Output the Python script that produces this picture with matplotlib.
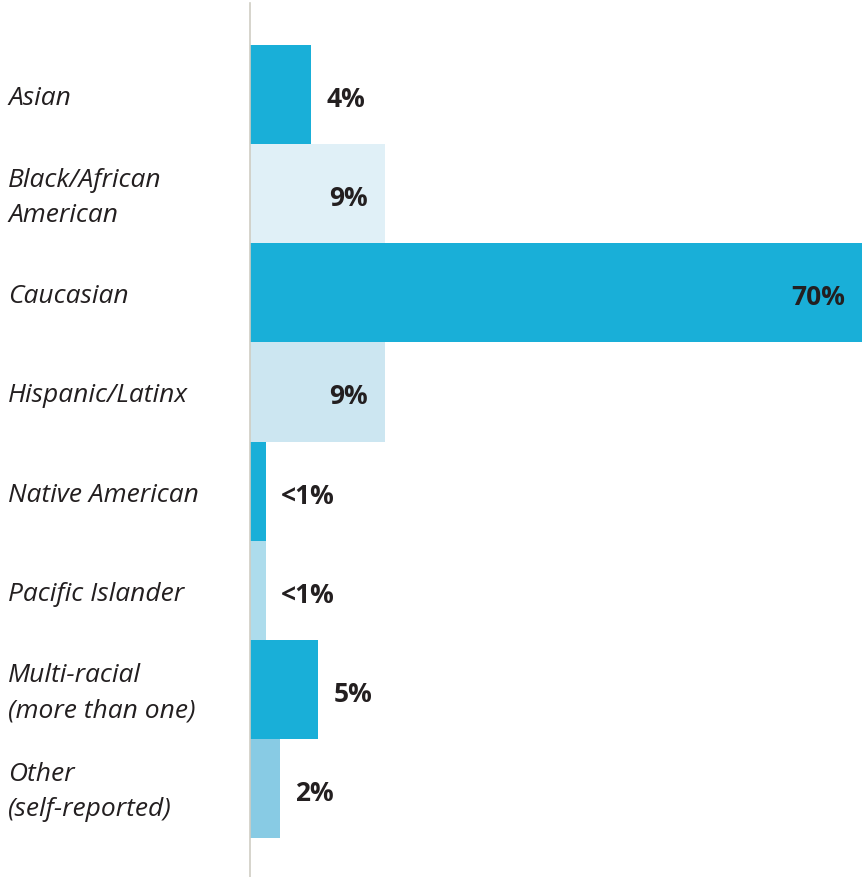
import matplotlib
matplotlib.use("Agg")
import matplotlib.pyplot as plt
import matplotlib.transforms as mtransforms

# data
categories = ["Asian", "Black/African\nAmerican", "Caucasian", "Hispanic/Latinx",
              "Native American", "Pacific Islander", "Multi-racial\n(more than one)",
              "Other\n(self-reported)"]
pct_labels = ["4%", "9%", "70%", "9%", "<1%", "<1%", "5%", "2%"]
# bar lengths as drawn in the original (percent scale, 70 = full width)
bar_len = [7.0, 15.4, 70.0, 15.4, 1.8, 1.8, 7.8, 3.4]
inside = [False, True, True, True, False, False, False, False]

colors = ["#19afd8", "#e0f0f7", "#19afd8", "#cce6f1",
          "#19afd8", "#addcec", "#19afd8", "#88cbe4"]
text_col = "#231f20"

W, H = 863, 877
fig = plt.figure(figsize=(W / 100, H / 100), dpi=100)
ax = fig.add_axes([250 / W, 0, 612 / W, 1 - 3 / H])

ypos = list(range(len(categories)))
ax.barh(ypos, bar_len, height=1.0, color=colors, linewidth=0)
ax.set_xlim(0, 70)
ax.set_ylim(7.5 + 39 / 99.1, -0.5 - 42 / 99.1)

for s in ["top", "right", "bottom"]:
    ax.spines[s].set_visible(False)
ax.spines["left"].set_color("#cfcdc3")
ax.spines["left"].set_linewidth(1.2)
ax.set_xticks([])
ax.set_yticks([])

# category labels on the left
trans = mtransforms.blended_transform_factory(fig.transFigure, ax.transData)
for y, cat in zip(ypos, categories):
    ax.annotate(cat, (8 / W, y), xycoords=trans, xytext=(0, -4),
                textcoords="offset pixels", ha="left", va="center",
                fontsize=19, fontstyle="italic", family="Open Sans",
                color=text_col, linespacing=1.52)

# value labels
for y, v, lab, ins in zip(ypos, bar_len, pct_labels, inside):
    if ins:
        ax.annotate(lab, (v, y), xytext=(-17, -5), textcoords="offset pixels",
                    ha="right", va="center", fontsize=19, fontweight="bold",
                    family="Open Sans", color=text_col)
    else:
        ax.annotate(lab, (v, y), xytext=(15, -5), textcoords="offset pixels",
                    ha="left", va="center", fontsize=19, fontweight="bold",
                    family="Open Sans", color=text_col)

fig.savefig("out.png", dpi=100)
